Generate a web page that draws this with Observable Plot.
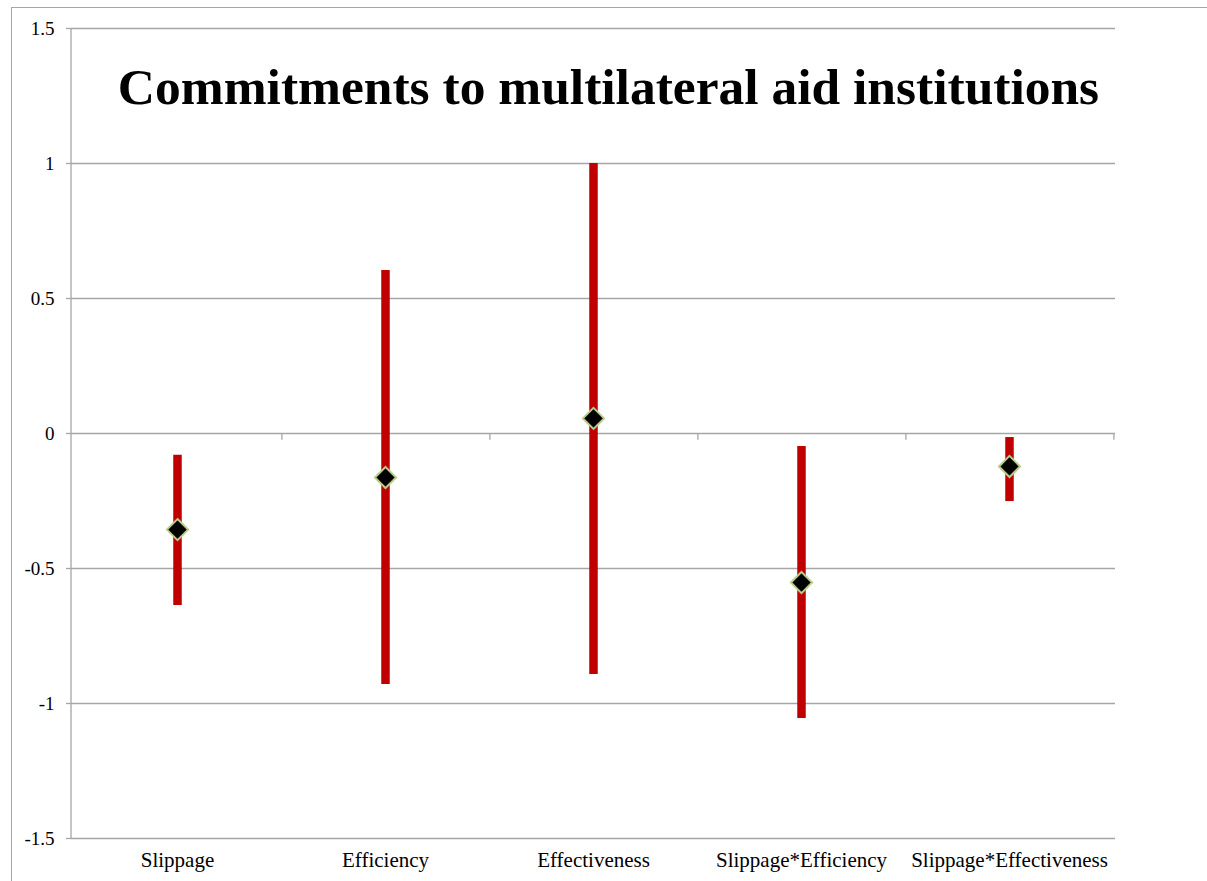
<!DOCTYPE html>
<html>
<head>
<meta charset="utf-8">
<script src="https://cdn.jsdelivr.net/npm/d3@7"></script>
<script src="https://cdn.jsdelivr.net/npm/@observablehq/plot@0.6"></script>
<style>
  html, body { margin: 0; padding: 0; background: #fff; }
  #wrap { position: relative; width: 1207px; height: 881px; overflow: hidden; }
  #frame { position: absolute; left: 11px; top: 7px; width: 1300px; height: 1000px;
           border-left: 1.5px solid #a6a6a6; border-top: 1.5px solid #a6a6a6; box-sizing: border-box; }
  #chart { position: absolute; left: 0; top: 0; }
</style>
</head>
<body>
<div id="wrap"><div id="frame"></div><div id="chart"></div></div>
<script>
const title = "Commitments to multilateral aid institutions";
const categories = ["Slippage", "Efficiency", "Effectiveness", "Slippage*Efficiency", "Slippage*Effectiveness"];
const estimates = [-0.356, -0.163, 0.056, -0.552, -0.122];
const lowerBounds = [-0.637, -0.930, -0.893, -1.056, -0.252];
const upperBounds = [-0.081, 0.604, 1.000, -0.048, -0.015];
const yTicks = [1.5, 1, 0.5, 0, -0.5, -1, -1.5];

const data = categories.map((c, i) => ({
  category: c, est: estimates[i], lo: lowerBounds[i], hi: upperBounds[i]
}));

const width = 1207, height = 881;
const marginLeft = 71, marginRight = 92;
const bandwidth = (width - marginLeft - marginRight) / categories.length;
const grid = "#a6a6a6";
const serif = "'Liberation Serif', 'Times New Roman', serif";

const chart = Plot.plot({
  width, height,
  marginLeft, marginRight, marginTop: 28, marginBottom: 43,
  style: { fontFamily: serif, background: "transparent", overflow: "visible" },
  x: { type: "band", domain: categories, padding: 0, axis: null },
  y: { domain: [-1.5, 1.5], axis: null },
  marks: [
    Plot.ruleY(yTicks, { stroke: grid, strokeWidth: 1.3, strokeOpacity: 1 }),
    Plot.axisY(yTicks, { tickSize: 5, tickPadding: 12, stroke: grid, strokeWidth: 1.3, strokeOpacity: 1,
      tickFormat: d => String(d), fontSize: 19, fontFamily: serif, fill: "#000", label: null }),
    Plot.ruleX(categories, { x: d => d, dx: bandwidth / 2, y1: 0, y2: -0.025, stroke: grid, strokeWidth: 1.3 }),
    Plot.axisX(categories, { tickSize: 0, tickPadding: 14, fontSize: 21, fontFamily: serif, fill: "#000", label: null }),
    Plot.ruleX(data, { x: "category", y1: "lo", y2: "hi", stroke: "#c00000", strokeWidth: 8.5 }),
    Plot.dot(data, { x: "category", y: "est", symbol: "diamond2", r: 9.5, fill: "#000", stroke: "#b9cc85", strokeWidth: 2 }),
    Plot.text([title], { frameAnchor: "top", dx: 15, dy: 59, fontSize: 51.5, fontWeight: "bold",
      fontFamily: serif, fill: "#000", lineAnchor: "middle" })
  ]
});
document.getElementById("chart").appendChild(chart);

// y-axis vertical line on the left of the plot
const svg = d3.select(chart);
svg.append("line")
  .attr("x1", marginLeft).attr("x2", marginLeft)
  .attr("y1", 28).attr("y2", height - 43)
  .attr("stroke", grid).attr("stroke-width", 1.3);
</script>
</body>
</html>
